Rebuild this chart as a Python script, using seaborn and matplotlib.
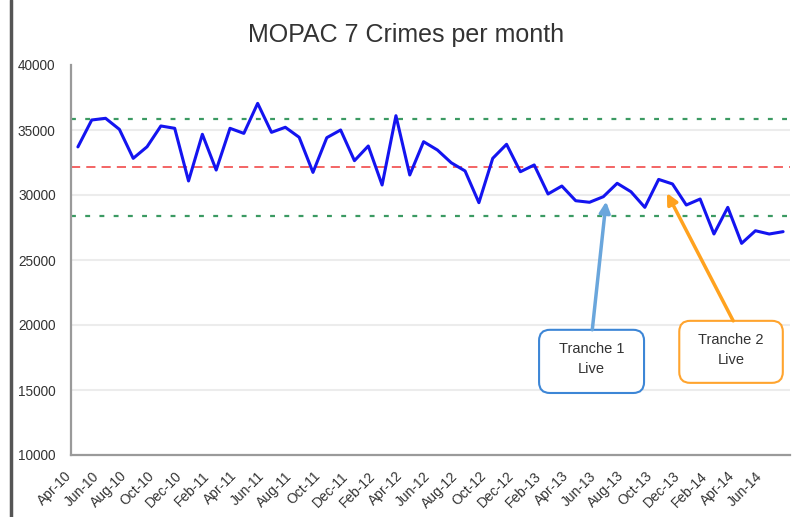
import numpy as np
import pandas as pd
import matplotlib
matplotlib.use("Agg")
import matplotlib.pyplot as plt
from matplotlib.patches import FancyBboxPatch
from matplotlib.lines import Line2D
from matplotlib.transforms import ScaledTranslation
import seaborn as sns

# monthly crime counts, Apr-10 .. Jul-14
months = pd.date_range("2010-04-01", periods=52, freq="MS").strftime("%b-%y").tolist()
crimes = [
    33700, 35770, 35900, 35050, 32820, 33710, 35310, 35130, 31080, 34670,
    31920, 35130, 34740, 37050, 34820, 35210, 34440, 31740, 34410, 35000,
    32640, 33770, 30770, 36100, 31540, 34100, 33460, 32480, 31850, 29410,
    32820, 33900, 31790, 32310, 30080, 30690, 29560, 29440, 29870, 30900,
    30250, 29050, 31200, 30850, 29230, 29690, 27000, 29050, 26280, 27250,
    27000, 27180,
]
mean_line = 32130
upper_line = 35820
lower_line = 28350
y_ticks = [10000, 15000, 20000, 25000, 30000, 35000, 40000]

# arrow targets (month index, value) for the two tranche call-outs
tranche1_target = (38.2, 29500)
tranche2_target = (42.6, 30150)

df = pd.DataFrame({"idx": np.arange(len(crimes)), "crimes": crimes})

sns.set_style("white")
plt.rcParams["font.family"] = ["Liberation Sans", "DejaVu Sans"]

fig = plt.figure(figsize=(7.94, 5.17), dpi=100)
ax = fig.add_axes([71 / 794, 62 / 517, 719 / 794, 390 / 517])

for v in y_ticks[1:-1]:
    ax.axhline(v, color="#ececec", lw=1.5, zorder=0)

sns.lineplot(data=df, x="idx", y="crimes", ax=ax, color="#1414f0", lw=2.2, zorder=3)
ax.axhline(upper_line, color="#3b9a62", lw=1.6, dashes=(2.2, 4.2), zorder=2)
ax.axhline(lower_line, color="#3b9a62", lw=1.6, dashes=(2.2, 4.2), zorder=2)
ax.axhline(mean_line, color="#f03a3a", lw=1.1, dashes=(6, 4), zorder=2)

ax.set_xlim(-0.5, len(crimes) - 0.5)
ax.set_ylim(10000, 40000)
ax.set_yticks(y_ticks)
ax.set_yticklabels([str(v) for v in y_ticks])
ax.set_xlabel("")
ax.set_ylabel("")

# tick marks between categories, labels on every other month
ax.set_xticks(np.arange(-0.5, len(crimes), 2))
ax.set_xticklabels([])
ax.set_xticks(np.arange(0, len(crimes), 2), minor=True)
ax.set_xticklabels(months[::2], minor=True, rotation=45, ha="right", rotation_mode="anchor")
ax.tick_params(axis="x", which="major", length=4, width=1.2, color="#999999", direction="out")
ax.tick_params(axis="x", which="minor", length=0, pad=10, labelsize=10, labelcolor="#333333")
ax.tick_params(axis="y", length=0, pad=11, labelsize=9.8, labelcolor="#333333")
shift = ScaledTranslation(-10 / 72, 0, fig.dpi_scale_trans)
for lab in ax.get_xticklabels(minor=True):
    lab.set_transform(lab.get_transform() + shift)

for side in ["top", "right"]:
    ax.spines[side].set_visible(False)
for side in ["left", "bottom"]:
    ax.spines[side].set_color("#9a9a9a")
    ax.spines[side].set_linewidth(1.6)

fig.text(406 / 794, 1 - 35 / 517, "MOPAC 7 Crimes per month", ha="center", va="center",
         fontsize=18, color="#333333")

# call-out boxes
aspect = 719 / 390
boxes = [
    ((0.651, 0.159), 0.146, 0.162, "#3d86d6", "Tranche 1\nLive", (0.725, 0.321), tranche1_target, "#6aa6dc"),
    ((0.846, 0.185), 0.144, 0.159, "#ffa42e", "Tranche 2\nLive", (0.921, 0.344), tranche2_target, "#ffa21f"),
]
for (x0, y0), w, h, ec, label, start, target, acol in boxes:
    box = FancyBboxPatch((x0, y0), w, h, boxstyle="round,pad=0,rounding_size=0.015",
                         mutation_aspect=aspect, transform=ax.transAxes,
                         facecolor="white", edgecolor=ec, lw=1.5, zorder=4)
    ax.add_patch(box)
    ax.text(x0 + w / 2, y0 + h / 2 + 0.005, label, transform=ax.transAxes, ha="center",
            va="center", fontsize=10.5, color="#333333", linespacing=1.55, zorder=5)
    ax.annotate("", xy=target, xycoords="data", xytext=start, textcoords="axes fraction",
                arrowprops=dict(arrowstyle="-|>", color=acol, lw=2.5, mutation_scale=16,
                                shrinkA=0, shrinkB=0), zorder=4)

# dark border on the far left of the picture
fig.add_artist(Line2D([11 / 794, 11 / 794], [0, 1], color="#555555", lw=2.5))

fig.savefig("out.png", dpi=100)
